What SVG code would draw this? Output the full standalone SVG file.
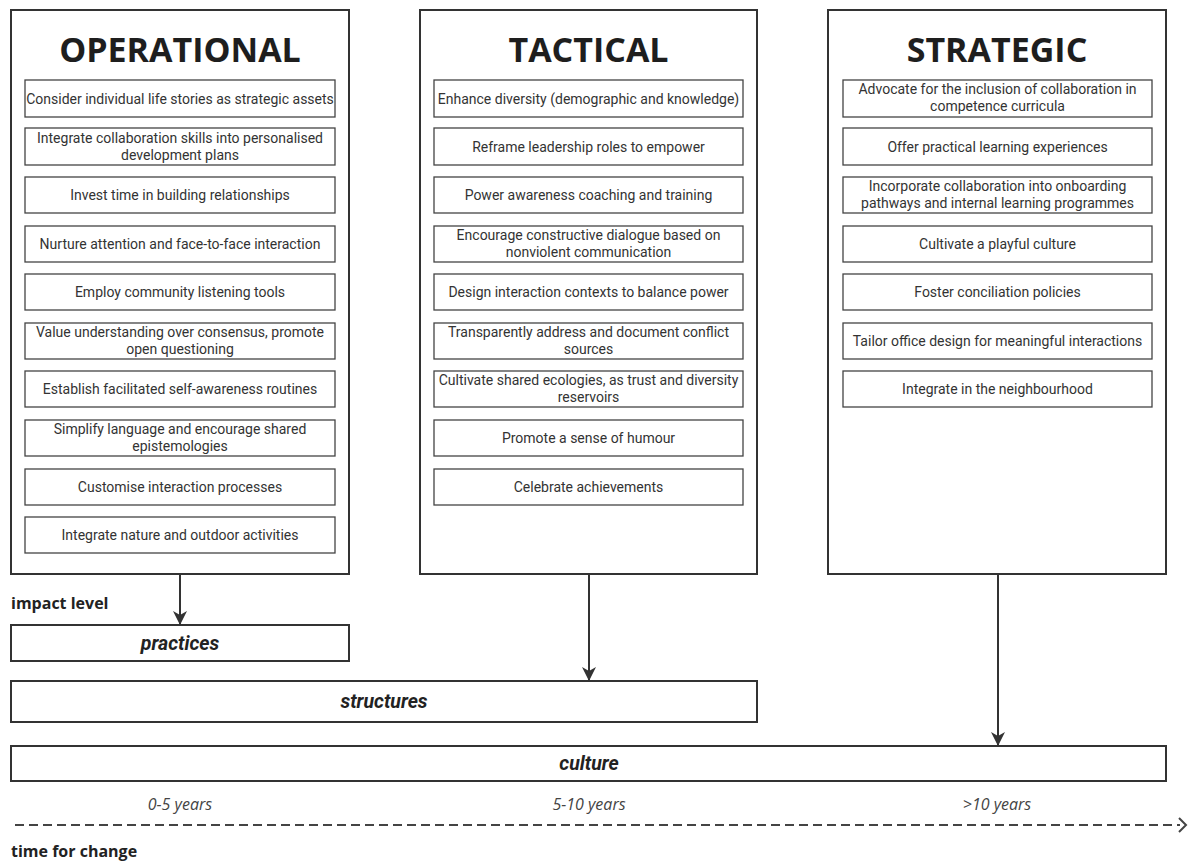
<svg xmlns="http://www.w3.org/2000/svg" width="1188" height="861" viewBox="0 0 1188 861">
<style>
.col{fill:#fff;stroke:#333;stroke-width:2}
.item{fill:#fff;stroke:#444;stroke-width:1.3}
.lvl{fill:#fff;stroke:#333;stroke-width:2}
.title{font-family:"Open Sans",sans-serif;font-weight:700;font-size:34px;fill:#1e1e1e;text-anchor:middle}
.t{font-family:Roboto,sans-serif;font-size:14px;fill:#333;text-anchor:middle}
.lab{font-family:Roboto,sans-serif;font-size:19.5px;font-weight:700;font-style:italic;fill:#222;text-anchor:middle}
.yr{font-family:"Open Sans",sans-serif;font-size:16px;font-style:italic;fill:#444;text-anchor:middle}
.hd{font-family:"Open Sans",sans-serif;font-size:16px;font-weight:700;fill:#222}
.conn{stroke:#333;stroke-width:2;fill:none}
</style>
<defs>
<marker id="ah" viewBox="0 0 14 14" refX="13" refY="7" markerWidth="14" markerHeight="14" markerUnits="userSpaceOnUse" orient="auto">
<path d="M0,0 L14,7 L0,14 L4,7 Z" fill="#333"/>
</marker>
</defs>

<g id="operational">
<rect class="col" x="11" y="10" width="338" height="564"/>
<text class="title" x="180" y="62">OPERATIONAL</text>
<rect class="item" x="25" y="80" width="310" height="37"/><text class="t" x="180" y="103.5">Consider individual life stories as strategic assets</text>
<rect class="item" x="25" y="128" width="310" height="37"/><text class="t" x="180" y="143">Integrate collaboration skills into personalised<tspan x="180" dy="17">development plans</tspan></text>
<rect class="item" x="25" y="177" width="310" height="36"/><text class="t" x="180" y="200">Invest time in building relationships</text>
<rect class="item" x="25" y="226" width="310" height="36"/><text class="t" x="180" y="249">Nurture attention and face-to-face interaction</text>
<rect class="item" x="25" y="274" width="310" height="36"/><text class="t" x="180" y="297">Employ community listening tools</text>
<rect class="item" x="25" y="323" width="310" height="36"/><text class="t" x="180" y="337">Value understanding over consensus, promote<tspan x="180" dy="17">open questioning</tspan></text>
<rect class="item" x="25" y="371" width="310" height="36"/><text class="t" x="180" y="394">Establish facilitated self-awareness routines</text>
<rect class="item" x="25" y="420" width="310" height="36"/><text class="t" x="180" y="434">Simplify language and encourage shared<tspan x="180" dy="17">epistemologies</tspan></text>
<rect class="item" x="25" y="469" width="310" height="36"/><text class="t" x="180" y="492">Customise interaction processes</text>
<rect class="item" x="25" y="517" width="310" height="36"/><text class="t" x="180" y="540">Integrate nature and outdoor activities</text>
</g>

<g id="tactical">
<rect class="col" x="420" y="10" width="337" height="564"/>
<text class="title" x="588.5" y="62">TACTICAL</text>
<rect class="item" x="434" y="80" width="309" height="37"/><text class="t" x="588.5" y="103.5">Enhance diversity (demographic and knowledge)</text>
<rect class="item" x="434" y="128" width="309" height="37"/><text class="t" x="588.5" y="151.5">Reframe leadership roles to empower</text>
<rect class="item" x="434" y="177" width="309" height="36"/><text class="t" x="588.5" y="200">Power awareness coaching and training</text>
<rect class="item" x="434" y="226" width="309" height="36"/><text class="t" x="588.5" y="240">Encourage constructive dialogue based on<tspan x="588.5" dy="17">nonviolent communication</tspan></text>
<rect class="item" x="434" y="274" width="309" height="36"/><text class="t" x="588.5" y="297">Design interaction contexts to balance power</text>
<rect class="item" x="434" y="323" width="309" height="36"/><text class="t" x="588.5" y="337">Transparently address and document conflict<tspan x="588.5" dy="17">sources</tspan></text>
<rect class="item" x="434" y="371" width="309" height="36"/><text class="t" x="588.5" y="385">Cultivate shared ecologies, as trust and diversity<tspan x="588.5" dy="17">reservoirs</tspan></text>
<rect class="item" x="434" y="420" width="309" height="36"/><text class="t" x="588.5" y="443">Promote a sense of humour</text>
<rect class="item" x="434" y="469" width="309" height="36"/><text class="t" x="588.5" y="492">Celebrate achievements</text>
</g>

<g id="strategic">
<rect class="col" x="828" y="10" width="338" height="564"/>
<text class="title" x="997" y="62">STRATEGIC</text>
<rect class="item" x="843" y="80" width="309" height="37"/><text class="t" x="997.5" y="94">Advocate for the inclusion of collaboration in<tspan x="997.5" dy="17">competence curricula</tspan></text>
<rect class="item" x="843" y="128" width="309" height="37"/><text class="t" x="997.5" y="151.5">Offer practical learning experiences</text>
<rect class="item" x="843" y="177" width="309" height="36"/><text class="t" x="997.5" y="191">Incorporate collaboration into onboarding<tspan x="997.5" dy="17">pathways and internal learning programmes</tspan></text>
<rect class="item" x="843" y="226" width="309" height="36"/><text class="t" x="997.5" y="249">Cultivate a playful culture</text>
<rect class="item" x="843" y="274" width="309" height="36"/><text class="t" x="997.5" y="297">Foster conciliation policies</text>
<rect class="item" x="843" y="323" width="309" height="36"/><text class="t" x="997.5" y="346">Tailor office design for meaningful interactions</text>
<rect class="item" x="843" y="371" width="309" height="36"/><text class="t" x="997.5" y="394">Integrate in the neighbourhood</text>
</g>

<g id="practices">
<rect class="lvl" x="11" y="625" width="338" height="36"/>
<text class="lab" x="180" y="650">practices</text>
</g>
<g id="structures">
<rect class="lvl" x="11" y="681" width="746" height="41"/>
<text class="lab" x="384" y="708">structures</text>
</g>
<g id="culture">
<rect class="lvl" x="11" y="746" width="1155" height="35"/>
<text class="lab" x="589" y="770">culture</text>
</g>

<g id="labels">
<text class="hd" x="11" y="609">impact level</text>
<text class="hd" x="11" y="857">time for change</text>
<text class="yr" x="180" y="810">0-5 years</text>
<text class="yr" x="589" y="810">5-10 years</text>
<text class="yr" x="997" y="810">&gt;10 years</text>
</g>

<g id="connectors">
<line class="conn" x1="180" y1="575" x2="180" y2="624" marker-end="url(#ah)"/>
<line class="conn" x1="589" y1="575" x2="589" y2="680" marker-end="url(#ah)"/>
<line class="conn" x1="998" y1="575" x2="998" y2="745" marker-end="url(#ah)"/>
<line x1="15" y1="825" x2="1180" y2="825" stroke="#444" stroke-width="2" stroke-dasharray="9,5"/>
<path d="M1179,818 L1186,825 L1179,832" stroke="#444" stroke-width="2" fill="none"/>
</g>
</svg>
